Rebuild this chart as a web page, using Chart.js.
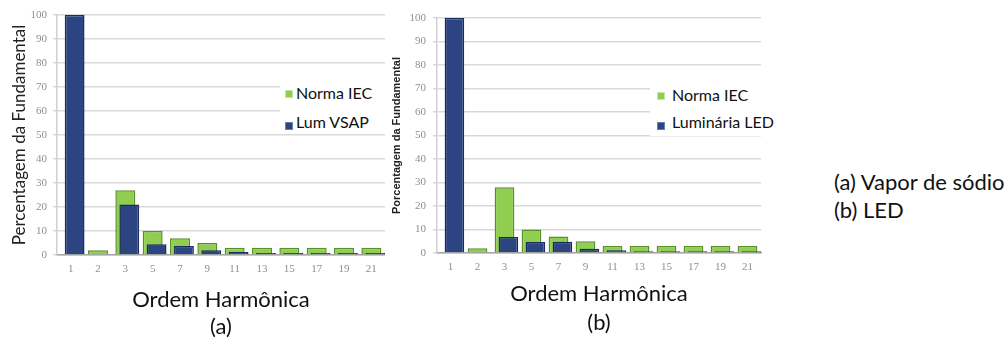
<!DOCTYPE html>
<html>
<head>
<meta charset="utf-8">
<script src="https://cdn.jsdelivr.net/npm/chart.js@4.4.1/dist/chart.umd.min.js"></script>
<style>
  body { margin: 0; background: #fff; }
  #page { position: relative; width: 1008px; height: 340px; overflow: hidden; font-family: Lato, sans-serif; }
  .wrap { position: absolute; top: 0; }
  .legend { position: absolute; background: #fff; font-size: 16px; color: #111; }
  .legend .row { position: absolute; white-space: nowrap; line-height: 20px; }
  .legend .sw { position: absolute; width: 6px; height: 6px; border: 1px solid; }
  #notes { position: absolute; left: 834px; top: 168px; font-size: 22px; line-height: 28px; color: #111; }
</style>
</head>
<body>
<div id="page">
  <div class="wrap" style="left:0px"><canvas id="chartA" width="385" height="340"></canvas></div>
  <div class="wrap" style="left:385px"><canvas id="chartB" width="390" height="340"></canvas></div>
  <div class="legend" id="legendA" style="left:280px; top:76px; width:105px; height:58px"></div>
  <div class="legend" id="legendB" style="left:650px; top:78px; width:130px; height:58px"></div>
  <div id="notes">(a) Vapor de sódio<br>(b) LED</div>
</div>
<script>
// harmonic orders on the x axis
const harmonics = ["1", "2", "3", "5", "7", "9", "11", "13", "15", "17", "19", "21"];

// (a) sodium vapour luminaire
const normaIecA = [null, 2, 27, 10, 7, 5, 3, 3, 3, 3, 3, 3];
const lumVsap = [100, 0.3, 21, 4.5, 3.8, 2, 1.2, 0.8, 0.8, 0.8, 0.8, 0.8];

// (b) LED luminaire
const normaIecB = [null, 2, 28, 10, 7, 5, 3, 3, 3, 3, 3, 3];
const lumLed = [100, 0.3, 6.8, 4.7, 4.8, 1.8, 1.2, 0.7, 0.7, 0.7, 0.7, 0.7];

const yMax = 100;
const yStep = 10;

const GREEN = "#8fce4f", GREEN_EDGE = "#5a8f2c";
const BLUE = "#2c4482", BLUE_EDGE = "#1b2b5c";
const empty = harmonics.map(() => null);

// green is not grouped (centred on the tick, drawn underneath);
// blue shares a group with an empty placeholder so it lands a little to the right, on top
function buildChart(id, iecData, lumData, lumLabel, opt) {
  const cat = 0.58;
  return new Chart(document.getElementById(id), {
    type: "bar",
    data: {
      labels: harmonics,
      datasets: [
        { label: "Norma IEC", data: iecData, order: 2, grouped: false,
          categoryPercentage: cat, barPercentage: 1.26, borderWidth: 1.5,
          backgroundColor: GREEN, borderColor: GREEN_EDGE },
        { label: lumLabel, data: lumData, order: 1,
          categoryPercentage: cat, barPercentage: 2.5, borderWidth: 1.5,
          backgroundColor: BLUE, borderColor: BLUE_EDGE },
        { label: "", data: empty, order: 0,
          categoryPercentage: cat, barPercentage: 2.5 },
      ],
    },
    options: {
      responsive: false,
      animation: false,
      layout: { padding: { top: opt.top, right: opt.right, left: 0, bottom: 0 } },
      plugins: { legend: { display: false }, tooltip: { enabled: false } },
      scales: {
        x: {
          type: "category",
          offset: true,
          grid: { display: false, drawTicks: false },
          border: { display: true, color: "#a6a6a6", width: 1.5 },
          ticks: { color: "#8f8f8f", padding: 8, font: { family: "Liberation Serif", size: 11 } },
          title: {
            display: true,
            text: ["Ordem Harmônica", opt.caption],
            color: "#111",
            font: { family: "Lato", size: 22, lineHeight: opt.capLine },
            padding: { top: 0, bottom: opt.capPad },
          },
          afterFit: (s) => { s.height = opt.xHeight; },
        },
        y: {
          min: 0,
          max: yMax,
          ticks: { stepSize: yStep, color: "#8f8f8f", padding: opt.tickPad,
                   font: { family: "Liberation Serif", size: 11 } },
          grid: { color: "#d9d9d9", lineWidth: 1.5, tickLength: 4 },
          border: { color: "#d0d0d0", width: 1.5 },
          title: {
            display: true,
            text: opt.yTitle,
            color: "#222",
            font: opt.yFont,
            padding: { top: opt.yTitlePad, bottom: 0 },
          },
          afterFit: (s) => { s.width = opt.yWidth; },
        },
      },
    },
  });
}

function buildLegend(elId, chart, sqX, txtX, rowY, rowH) {
  const box = document.getElementById(elId);
  chart.data.datasets.filter((d) => d.label).forEach((d, i) => {
    const cy = rowY + i * rowH;
    const sw = document.createElement("div");
    sw.className = "sw";
    sw.style.left = sqX + "px";
    sw.style.top = (cy - 3 + i * 3) + "px";
    sw.style.background = d.backgroundColor;
    sw.style.borderColor = i === 0 ? "#c6e6a4" : "#6d7fa8";
    const row = document.createElement("div");
    row.className = "row";
    row.style.left = txtX + "px";
    row.style.top = (cy - 10) + "px";
    row.textContent = d.label;
    box.appendChild(sw);
    box.appendChild(row);
  });
}

const chartA = buildChart("chartA", normaIecA, lumVsap, "Lum VSAP", {
  top: 15, right: 0, xHeight: 85, yWidth: 57, tickPad: 6,
  caption: "(a)", capLine: "27px", capPad: 0,
  yTitle: "Percentagem da Fundamental",
  yFont: { family: "Lato", size: 17, lineHeight: 1.2 }, yTitlePad: 9,
});

const chartB = buildChart("chartB", normaIecB, lumLed, "Luminária LED", {
  top: 18, right: 14, xHeight: 87, yWidth: 52, tickPad: 7,
  caption: "(b)", capLine: "29.5px", capPad: 2,
  yTitle: "Porcentagem da Fundamental",
  yFont: { family: "Liberation Sans", size: 11, weight: "bold", lineHeight: 1.2 }, yTitlePad: 5,
});

buildLegend("legendA", chartA, 5, 16, 17, 29);
buildLegend("legendB", chartB, 7, 22, 17, 27);
</script>
</body>
</html>
